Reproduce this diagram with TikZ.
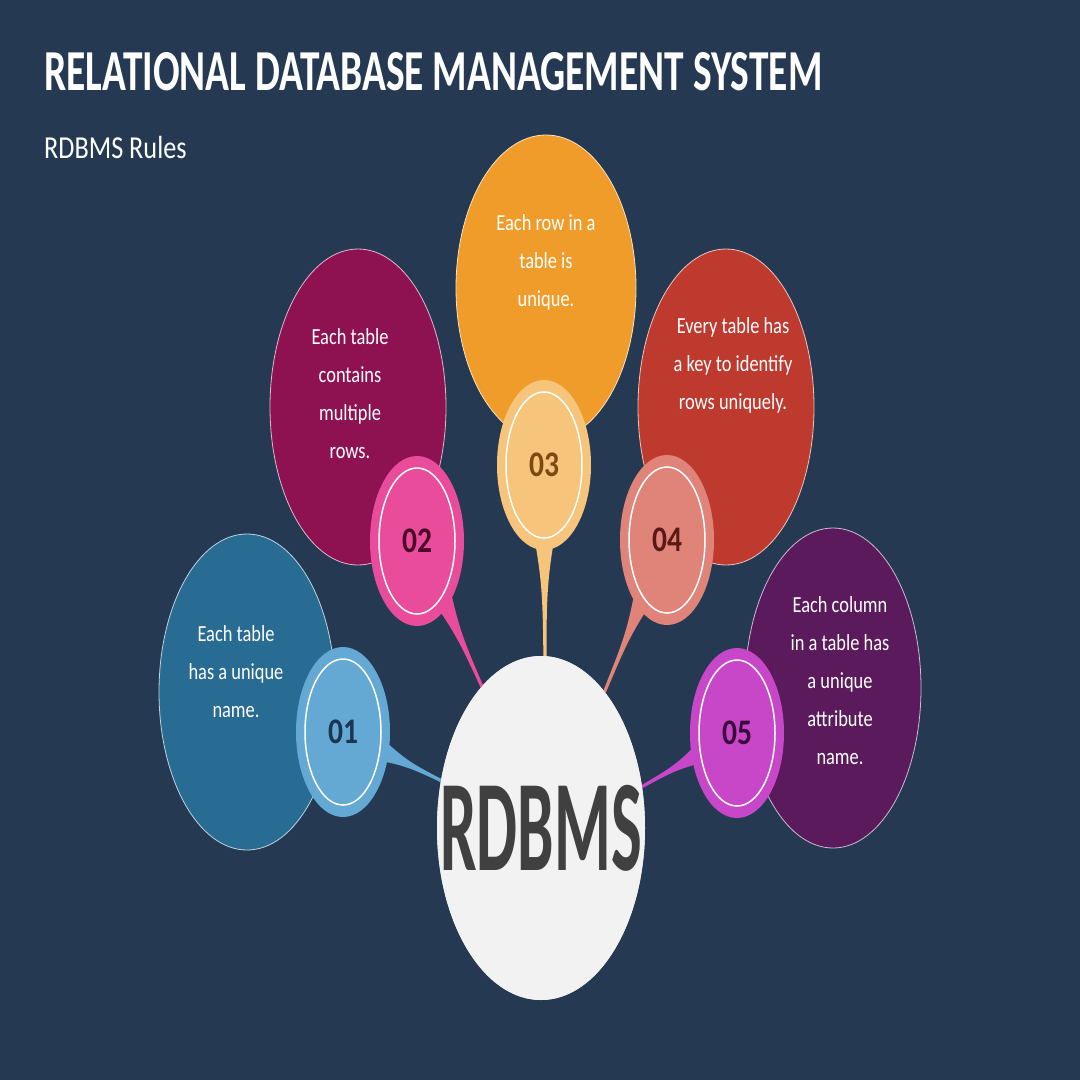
\documentclass[tikz,border=0pt]{standalone}
\usepackage{fontspec}
\setmainfont{Carlito}
\usetikzlibrary{shapes.geometric,calc}
\definecolor{bg}{HTML}{253A52}
\definecolor{cA}{HTML}{286B93}\definecolor{cB}{HTML}{8E1252}\definecolor{cC}{HTML}{F09C2A}
\definecolor{cD}{HTML}{BE3A2E}\definecolor{cE}{HTML}{5A1A5C}
\definecolor{bA}{HTML}{63A9D3}\definecolor{bB}{HTML}{E84C9A}\definecolor{bC}{HTML}{F7C47B}
\definecolor{bD}{HTML}{E08379}\definecolor{bE}{HTML}{C847C9}
\definecolor{nA}{HTML}{1C3550}\definecolor{nB}{HTML}{4A0A2A}\definecolor{nC}{HTML}{7A4A10}
\definecolor{nD}{HTML}{5A1A14}\definecolor{nE}{HTML}{3A0A3A}
\newcommand{\tailto}[3]{%
 \fill[#3] ($(#1)!24pt!90:(#2)$) .. controls ($($(#1)!0.55!(#2)$)!2pt!90:(#2)$) .. ($(#2)!1.5pt!-90:(#1)$)
  -- ($(#2)!1.5pt!90:(#1)$) .. controls ($($(#1)!0.55!(#2)$)!2pt!-90:(#2)$) .. ($(#1)!24pt!-90:(#2)$) -- cycle;}
\begin{document}
\begin{tikzpicture}[x=1pt,y=-1pt,
 bubble/.style={ellipse,draw=white!70!#1,line width=0.8pt,fill=#1,minimum width=176pt,minimum height=316pt,inner sep=0pt},
 badge/.style={ellipse,fill=#1,minimum width=94pt,minimum height=170pt,inner sep=0pt},
 ring/.style={ellipse,draw=white,line width=1.5pt,minimum width=76pt,minimum height=146pt,inner sep=0pt},
 txt/.style={text=white,font=\fontsize{23}{38}\selectfont,align=center,xscale=0.8},
 num/.style={font=\fontsize{36}{36}\selectfont\bfseries,text=#1,xscale=0.82}]
\fill[bg] (0,0) rectangle (1080,1080);
\useasboundingbox (0,0) rectangle (1080,1080);
\node[anchor=base west,text=white,font=\fontsize{58}{58}\selectfont\bfseries,inner sep=0pt,xscale=0.68] (title) at (44,90) {RELATIONAL DATABASE MANAGEMENT SYSTEM};
\node[anchor=base west,text=white,font=\fontsize{32}{32}\selectfont,inner sep=0pt,xscale=0.82] (sub) at (44,158) {RDBMS Rules};
% bubbles
\node[bubble=cA] (e1) at (247,692) {};
\node[bubble=cB] (e2) at (358,407) {};
\node[bubble=cC,minimum width=180pt,minimum height=306pt] (e3) at (546,288) {};
\node[bubble=cD] (e4) at (726,407) {};
\node[bubble=cE,minimum height=320pt] (e5) at (833,688) {};
\node[txt] (x1) at (236,672) {Each table\\has a unique\\name.};
\node[txt] (x2) at (350,394) {Each table\\contains\\multiple\\rows.};
\node[txt] (x3) at (546,262) {Each row in a\\table is\\unique.};
\node[txt] (x4) at (733,365) {Every table has\\a key to identify\\rows uniquely.};
\node[txt] (x5) at (840,681) {Each column\\in a table has\\a unique\\attribute\\name.};
% core and tails
\node[ellipse,fill=white!95!black,minimum width=208pt,minimum height=344pt,inner sep=0pt] (core) at (541,828) {};
\coordinate (p1) at (343,732); \coordinate (p2) at (417,541); \coordinate (p3) at (544,465);
\coordinate (p4) at (667,540); \coordinate (p5) at (737,733);
\coordinate (t1) at (452,786); \coordinate (t2) at (487,698); \coordinate (t3) at (545,668);
\coordinate (t4) at (602,698); \coordinate (t5) at (636,790);
\tailto{p1}{t1}{bA}\tailto{p2}{t2}{bB}\tailto{p3}{t3}{bC}\tailto{p4}{t4}{bD}\tailto{p5}{t5}{bE}
\node[ellipse,fill=white!95!black,minimum width=208pt,minimum height=344pt,inner sep=0pt] (core2) at (core) {};
\node[font=\fontsize{130}{130}\selectfont\bfseries,text=black!75,xscale=0.5] (lbl) at (core) {RDBMS};
% badges
\foreach \i/\c/\n/\t in {1/bA/nA/01,2/bB/nB/02,3/bC/nC/03,4/bD/nD/04,5/bE/nE/05}{
 \node[badge=\c] (b\i) at (p\i) {};
 \node[ring] (r\i) at (p\i) {};
 \node[num=\n] (n\i) at (p\i) {\t};
}
\end{tikzpicture}
\end{document}
